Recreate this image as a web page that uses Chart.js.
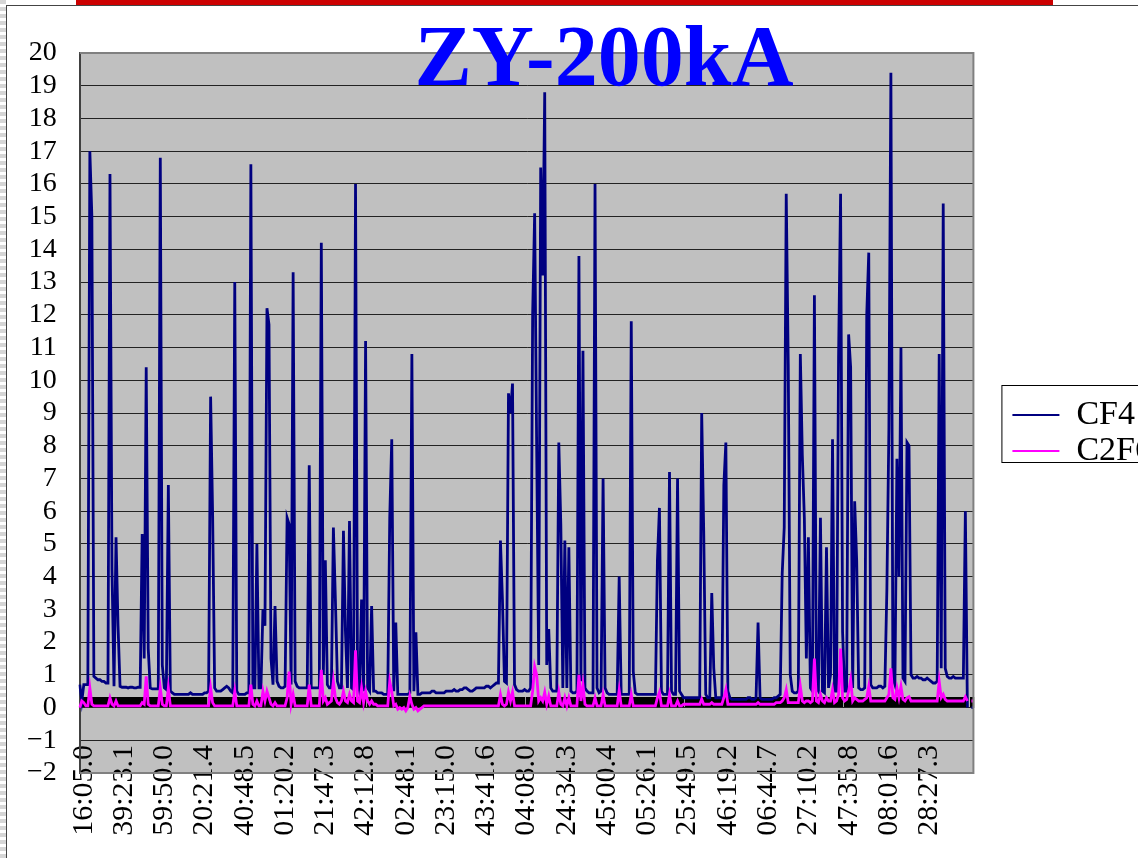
<!DOCTYPE html>
<html lang="zh">
<head>
<meta charset="UTF-8">
<title>ZY-200kA</title>
<script src="https://cdn.jsdelivr.net/npm/chart.js"></script>
<style>
  html, body { margin: 0; padding: 0; background: #fff; overflow: hidden; }
  #wrap { position: relative; width: 1138px; height: 858px; overflow: hidden; }
  #chart { position: absolute; left: 0; top: 0; }
  #stripes { position: absolute; left: 0; top: 0; width: 6px; height: 858px;
    background: repeating-linear-gradient(#d6d6d6 0 4px, #fff 4px 7px); }
  #vline { position: absolute; left: 6px; top: 5px; width: 1px; height: 853px; background: #444; }
  #hline { position: absolute; left: 6px; top: 5px; width: 1132px; height: 1px; background: #444; }
  #redbar { position: absolute; left: 76px; top: 0; width: 977px; height: 5px; background: #cc0000; }
  #title { position: absolute; left: 604px; top: 13px; transform: translateX(-50%);
    font: bold 86px "Liberation Serif", serif; line-height: 86px; color: #0000ff; white-space: nowrap; }
</style>
</head>
<body>
<div id="wrap">
  <canvas id="chart" width="1162" height="858"></canvas>
  <div id="stripes"></div>
  <div id="vline"></div>
  <div id="hline"></div>
  <div id="redbar"></div>
  <div id="title">ZY-200kA</div>
</div>

<script>
  // time labels shown on the x axis, one every 20 samples
  const xTickLabels = ['16:05.0', '39:23.1', '59:50.0', '20:21.4', '40:48.5', '01:20.2', '21:47.3', '42:12.8',
    '02:48.1', '23:15.0', '43:41.6', '04:08.0', '24:34.3', '45:00.4', '05:26.1', '25:49.5', '46:19.2',
    '06:44.7', '27:10.2', '47:35.8', '08:01.6', '28:27.3'];

  const cf4 = [
    0.7,0.2,0.7,0.7,0.7,17.0,15.0,0.95,0.9,0.85,0.85,0.8,0.8,0.75,0.75,16.3,4.2,0.65,5.2,2.5,
    0.65,0.62,0.62,0.62,0.6,0.62,0.62,0.6,0.6,0.62,0.62,5.3,1.5,10.4,1.8,0.6,0.57,0.57,0.57,0.57,
    16.8,1.3,0.6,0.55,6.8,0.5,0.45,0.4,0.4,0.4,0.4,0.4,0.4,0.4,0.4,0.45,0.4,0.4,0.4,0.4,
    0.4,0.4,0.45,0.45,0.5,9.5,5.9,0.6,0.5,0.5,0.5,0.55,0.6,0.65,0.6,0.5,0.45,13.0,0.5,0.4,
    0.4,0.4,0.4,0.45,0.45,16.6,0.6,0.6,5.0,0.6,0.6,3.0,2.5,12.2,11.7,1.5,0.7,3.1,0.8,0.65,
    0.6,0.6,0.65,5.8,5.6,0.7,13.3,0.8,0.65,0.6,0.6,0.6,0.6,0.6,7.4,0.6,0.6,0.6,0.6,0.6,
    14.2,1.0,4.5,0.7,0.6,0.6,5.5,3.3,0.8,0.6,0.6,5.4,2.3,0.6,5.7,0.6,0.55,16.0,0.8,0.5,
    3.3,0.5,11.2,0.6,0.5,3.1,0.5,0.5,0.45,0.45,0.45,0.4,0.4,0.4,5.8,8.2,0.5,2.6,0.4,0.4,
    0.4,0.4,0.4,0.4,0.45,10.8,0.5,2.3,0.4,0.4,0.45,0.45,0.45,0.45,0.45,0.5,0.5,0.45,0.45,0.45,
    0.45,0.45,0.5,0.5,0.5,0.5,0.55,0.5,0.5,0.55,0.55,0.6,0.6,0.55,0.5,0.5,0.55,0.6,0.6,0.6,
    0.6,0.6,0.65,0.65,0.6,0.65,0.7,0.75,0.75,5.1,3.3,0.8,0.75,9.6,9.0,9.9,0.7,0.55,0.5,0.5,
    0.5,0.55,0.5,0.5,0.6,12.0,15.1,8.0,1.3,16.5,13.2,18.8,1.3,2.4,0.6,0.5,0.5,0.5,8.1,5.6,
    0.6,5.1,0.6,4.9,0.5,0.45,0.45,0.5,13.8,0.8,10.9,0.6,0.5,0.45,0.45,0.45,16.0,0.6,0.45,0.5,
    7.0,0.6,0.45,0.4,0.4,0.4,0.4,0.4,4.0,0.4,0.4,0.4,0.4,0.4,11.8,1.1,0.45,0.4,0.4,0.4,
    0.4,0.4,0.4,0.4,0.4,0.4,0.4,4.5,6.1,0.5,0.4,0.4,0.4,7.2,0.5,0.4,0.4,7.0,0.5,0.4,
    0.3,0.3,0.3,0.3,0.3,0.3,0.3,0.3,0.3,9.0,5.4,0.4,0.3,0.3,3.5,1.2,0.3,0.3,0.3,0.3,
    6.8,8.1,0.5,0.3,0.25,0.25,0.25,0.25,0.25,0.25,0.25,0.25,0.3,0.3,0.25,0.25,0.3,2.6,0.3,0.25,
    0.25,0.25,0.25,0.25,0.25,0.3,0.3,0.35,0.4,4.1,5.5,15.7,10.5,1.0,0.5,0.45,0.45,0.5,10.8,7.7,
    5.8,1.5,5.2,0.6,0.5,12.6,0.6,0.5,5.8,0.5,0.45,4.9,0.6,1.0,8.2,0.5,0.5,10.7,15.7,2.3,
    0.5,0.5,11.4,10.4,0.6,6.3,4.5,0.6,0.55,0.55,0.6,12.0,13.9,0.7,0.6,0.6,0.6,0.65,0.65,0.6,
    0.65,3.6,8.5,19.4,0.9,0.7,7.6,4.0,11.0,0.9,0.8,8.1,8.0,1.0,0.9,0.9,0.95,0.9,0.9,0.85,
    0.85,0.9,0.85,0.8,0.75,0.75,0.8,10.8,1.2,15.4,1.2,0.95,0.9,0.9,0.95,0.9,0.9,0.9,0.9,0.9,
    6.0,0.0,0.0,0.0,0.0
  ];

  const c2f6 = [
    0.0,0.2,0.15,0.05,0.05,0.6,0.1,0.05,0.05,0.05,0.05,0.05,0.05,0.05,0.05,0.3,0.1,0.05,0.2,0.05,
    0.05,0.05,0.05,0.05,0.05,0.05,0.05,0.05,0.05,0.05,0.05,0.15,0.1,0.95,0.1,0.05,0.05,0.05,0.05,0.05,
    0.6,0.1,0.05,0.05,0.6,0.05,0.05,0.05,0.05,0.05,0.05,0.05,0.05,0.05,0.05,0.05,0.05,0.05,0.05,0.05,
    0.05,0.05,0.05,0.05,0.05,0.6,0.15,0.05,0.05,0.05,0.05,0.05,0.05,0.05,0.05,0.05,0.05,0.5,0.05,0.05,
    0.05,0.05,0.05,0.05,0.05,0.7,0.1,0.05,0.2,0.05,0.05,0.5,0.2,0.5,0.3,0.1,0.05,0.15,0.05,0.05,
    0.05,0.05,0.05,0.3,1.1,0.1,0.4,0.05,0.05,0.05,0.05,0.05,0.05,0.05,0.7,0.05,0.05,0.05,0.05,0.05,
    1.15,0.2,0.3,0.1,0.15,0.2,0.8,0.3,0.15,0.1,0.2,0.5,0.2,0.15,0.4,0.2,0.15,1.75,0.2,0.15,
    0.6,0.15,0.5,0.2,0.1,0.2,0.1,0.1,0.05,0.05,0.05,0.05,0.05,0.05,0.8,0.5,0.05,0.1,-0.05,0.0,
    -0.05,0.0,-0.1,0.0,0.35,0.1,-0.05,0.0,-0.1,-0.05,0.0,0.05,0.05,0.05,0.05,0.05,0.05,0.05,0.05,0.05,
    0.05,0.05,0.05,0.05,0.05,0.05,0.05,0.05,0.05,0.05,0.05,0.05,0.05,0.05,0.05,0.05,0.05,0.05,0.05,0.05,
    0.05,0.05,0.05,0.05,0.05,0.05,0.05,0.05,0.05,0.4,0.1,0.05,0.1,0.47,0.2,0.47,0.05,0.05,0.05,0.05,
    0.05,0.05,0.05,0.05,0.05,0.5,1.25,1.0,0.2,0.3,0.2,0.47,0.1,0.35,0.05,0.05,0.05,0.05,0.47,0.1,
    0.05,0.3,0.05,0.3,0.05,0.05,0.05,0.05,1.0,0.2,0.7,0.1,0.05,0.05,0.05,0.05,0.3,0.05,0.05,0.05,
    0.4,0.05,0.05,0.05,0.05,0.05,0.05,0.05,0.53,0.05,0.05,0.05,0.05,0.05,0.4,0.05,0.05,0.05,0.05,0.05,
    0.05,0.05,0.05,0.05,0.05,0.05,0.05,0.3,0.47,0.05,0.05,0.05,0.05,0.4,0.05,0.05,0.05,0.2,0.05,0.05,
    0.1,0.1,0.1,0.1,0.1,0.1,0.1,0.1,0.1,0.26,0.1,0.1,0.1,0.1,0.15,0.1,0.1,0.1,0.1,0.1,
    0.3,0.55,0.1,0.1,0.1,0.1,0.1,0.1,0.1,0.1,0.1,0.1,0.1,0.1,0.1,0.1,0.1,0.15,0.1,0.1,
    0.1,0.1,0.1,0.1,0.1,0.1,0.15,0.15,0.15,0.2,0.3,0.55,0.15,0.15,0.15,0.15,0.15,0.15,0.65,0.2,
    0.15,0.2,0.2,0.15,0.2,1.5,0.2,0.15,0.4,0.2,0.15,0.3,0.2,0.2,0.55,0.15,0.2,0.4,1.8,0.3,
    0.2,0.25,0.5,0.85,0.2,0.3,0.25,0.2,0.2,0.2,0.25,0.3,0.65,0.2,0.2,0.2,0.2,0.2,0.2,0.2,
    0.2,0.3,0.4,1.2,0.3,0.25,0.6,0.3,0.65,0.25,0.2,0.3,0.33,0.2,0.2,0.2,0.2,0.2,0.2,0.2,
    0.2,0.2,0.2,0.2,0.2,0.2,0.2,0.8,0.3,0.4,0.25,0.2,0.2,0.2,0.2,0.2,0.2,0.2,0.2,0.2,
    0.33,0.2,0.2,0.2,0.2
  ];

  // one category per sample, a time label every 20 samples starting at sample 2
  const labels = cf4.map((v, i) => (i >= 2 && (i - 2) % 20 === 0) ? xTickLabels[(i - 2) / 20] : '');

  Chart.defaults.font.family = '"Liberation Serif", serif';
  Chart.defaults.color = '#000';

  // keep the x scales from pushing the plot inwards
  function noPadding(s) {
    s.paddingLeft = 0;
    s.paddingRight = 0;
    s.paddingTop = 0;
    s.paddingBottom = 0;
  }

  // grey plot area, plot border and the box round the legend
  const plotFrame = {
    id: 'plotFrame',
    beforeDraw(chart) {
      const { ctx, chartArea: a } = chart;
      ctx.save();
      ctx.fillStyle = '#c0c0c0';
      ctx.fillRect(a.left, a.top, a.right - a.left, a.bottom - a.top);
      ctx.restore();
    },
    afterDraw(chart) {
      const { ctx, chartArea: a } = chart;
      ctx.save();
      ctx.strokeStyle = '#808080';
      ctx.lineWidth = 2;
      ctx.beginPath();
      ctx.moveTo(a.left, a.top);
      ctx.lineTo(a.right, a.top);
      ctx.lineTo(a.right, a.bottom);
      ctx.lineTo(a.left, a.bottom);
      ctx.stroke();

      const hb = chart.legend.legendHitBoxes;
      if (hb && hb.length) {
        const top = Math.min(...hb.map(h => h.top)) - 13;
        const bottom = Math.max(...hb.map(h => h.top)) + 28;
        const left = Math.min(...hb.map(h => h.left)) - 11;
        ctx.strokeStyle = '#000';
        ctx.lineWidth = 1;
        ctx.strokeRect(left + 0.5, top + 0.5, chart.width - left + 10, bottom - top);
      }
      ctx.restore();
    }
  };

  new Chart(document.getElementById('chart'), {
    type: 'line',
    data: {
      labels: labels,
      datasets: [
        { label: 'CF4', data: cf4, borderColor: '#000080', backgroundColor: '#000080',
          borderWidth: 2.8, pointRadius: 0, tension: 0, order: 1 },
        { label: 'C2F6', data: c2f6, borderColor: '#ff00ff', backgroundColor: '#ff00ff',
          borderWidth: 2.8, pointRadius: 0, tension: 0, order: 0 }
      ]
    },
    options: {
      responsive: false,
      animation: false,
      events: [],
      layout: { padding: { left: 4, top: 53, right: 0, bottom: 77 } },
      scales: {
        x: {
          type: 'category',
          grid: { display: false },
          border: { display: true, color: '#808080', width: 2 },
          ticks: { display: false },
          afterFit: noPadding
        },
        // the time labels sit inside the plot, running up to about -0.9
        xl: {
          type: 'category',
          position: { y: -0.9 },
          grid: { display: false },
          border: { display: false },
          ticks: { autoSkip: false, minRotation: 90, maxRotation: 90, padding: 0, font: { size: 30 } },
          afterFit: noPadding
        },
        // dense tick marks just above zero, like the original's axis ticks
        x2: {
          type: 'category',
          position: { y: 0.33 },
          grid: { drawOnChartArea: false, drawTicks: true, tickLength: 11, color: '#000', lineWidth: 2.2 },
          border: { display: false },
          ticks: { display: false },
          afterFit: noPadding
        },
        y: {
          min: -2,
          max: 20,
          ticks: {
            stepSize: 1, autoSkip: false, padding: 23, font: { size: 28 },
            callback: v => String(v).replace('-', '\u2212')
          },
          grid: { color: '#222', lineWidth: 1, drawTicks: false },
          border: { color: '#404040', width: 2 }
        },
        y2: {
          position: 'right',
          grid: { display: false },
          border: { display: false },
          ticks: { display: false },
          afterFit(s) { s.width = 37; }
        }
      },
      plugins: {
        title: { display: false },
        tooltip: { enabled: false },
        legend: {
          position: 'right',
          title: { display: true, text: ' ', font: { size: 20 }, padding: 4 },
          labels: {
            boxWidth: 47,
            boxHeight: 2,
            padding: 2,
            font: { size: 34, lineHeight: 1 },
            sort: (a, b) => a.datasetIndex - b.datasetIndex,
            generateLabels: chart => Chart.defaults.plugins.legend.labels.generateLabels(chart)
              .map(l => Object.assign(l, { lineWidth: 0 }))
          }
        }
      }
    },
    plugins: [plotFrame]
  });
</script>
</body>
</html>
